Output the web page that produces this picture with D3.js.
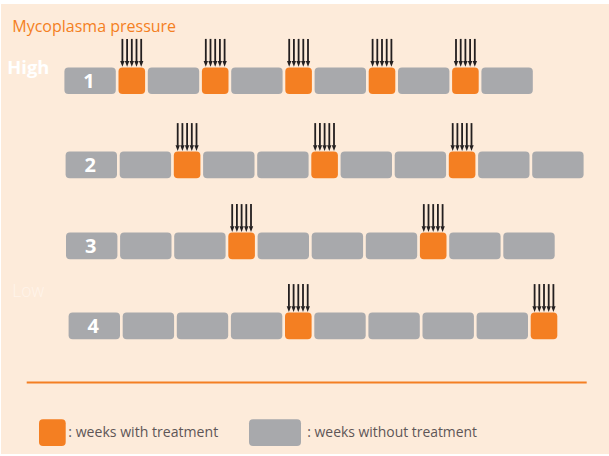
<!DOCTYPE html>
<html>
<head>
<meta charset="utf-8">
<script src="https://cdn.jsdelivr.net/npm/d3@7"></script>
<style>
  html, body { margin: 0; padding: 0; background: #ffffff; }
  svg { display: block; }
</style>
</head>
<body>
<svg id="chart" width="609" height="456"></svg>
<script>
// ---------- DATA ----------
const titleText = "Mycoplasma pressure";
const highLabel = "High";
const lowLabel = "Low";
const rowLabels = ["1", "2", "3", "4"];
// 1 = week with treatment, 0 = week without treatment
const schedule1 = [0, 1, 0, 1, 0, 1, 0, 1, 0, 1, 0];
const schedule2 = [0, 0, 1, 0, 0, 1, 0, 0, 1, 0, 0];
const schedule3 = [0, 0, 0, 1, 0, 0, 0, 1, 0, 0];
const schedule4 = [0, 0, 0, 0, 1, 0, 0, 0, 0, 1];
const arrowsPerTreatment = 5;
const legendLabels = [": weeks with treatment", ": weeks without treatment"];

// ---------- STYLE / LAYOUT ----------
const W = 609, H = 456;
const colors = {
  bg: "#FDEBDA",
  orange: "#F47F22",
  gray: "#A8A9AC",
  arrow: "#231F20",
  text: "#5E5657",
  white: "#FFFFFF",
  low: "#FFF4EA"
};
const FONT = "'Open Sans', 'Noto Sans', sans-serif";
const grayW = 51.4, orangeW = 26.6, gap = 2.7, blockH = 26.6, radius = 4;
const rowTops = [67.4, 151.6, 232.6, 312.6];
const rowStarts = [64.4, 65.6, 66.0, 68.6];
const arrowLen = 28.5, arrowSpacing = 4.7, headW = 4.4, headH = 5.8;

const svg = d3.select("#chart");

// background panel
svg.append("rect").attr("x", 1).attr("y", 4).attr("width", W - 1).attr("height", H - 6)
  .attr("fill", colors.bg);

function fitText(sel, targetWidth) {
  const node = sel.node();
  const fs = parseFloat(sel.attr("font-size"));
  const w = node.getComputedTextLength();
  if (w > 0) sel.attr("font-size", fs * targetWidth / w);
  return sel;
}

// title
fitText(svg.append("text").attr("x", 12.3).attr("y", 31.7)
  .attr("font-family", FONT).attr("font-size", 15.5).attr("fill", colors.orange)
  .text(titleText), 164);

// High / Low
fitText(svg.append("text").attr("x", 7.3).attr("y", 74)
  .attr("font-family", FONT).attr("font-weight", 700).attr("font-size", 18.5)
  .attr("fill", colors.white).text(highLabel), 42);
fitText(svg.append("text").attr("x", 12.3).attr("y", 296.7)
  .attr("font-family", FONT).attr("font-weight", 300).attr("font-size", 19)
  .attr("fill", colors.low).text(lowLabel), 32);

// rows
const schedules = [schedule1, schedule2, schedule3, schedule4];
const rows = schedules.map((weeks, i) => {
  const widthOf = v => v ? orangeW : grayW;
  let x = 0;
  const blocks = weeks.map((v, j) => {
    const b = { treated: v, offset: x, width: widthOf(v), index: j };
    x += widthOf(v) + gap;
    return b;
  });
  const total = x - gap;
  return { label: rowLabels[i], blocks, total, index: i };
});

const yScale = d3.scaleOrdinal().domain(rowLabels).range(rowTops);
const xStart = d3.scaleOrdinal().domain(rowLabels).range(rowStarts);

rows.forEach(row => {
  const g = svg.append("g")
    .attr("transform", `translate(${xStart(row.label)},${yScale(row.label)})`);
  const xs = d3.scaleLinear().domain([0, row.total]).range([0, row.total]);

  g.selectAll("rect.week").data(row.blocks).join("rect")
    .attr("class", "week")
    .attr("x", d => xs(d.offset))
    .attr("y", 0)
    .attr("width", d => xs(d.width) - xs(0))
    .attr("height", blockH)
    .attr("rx", radius).attr("ry", radius)
    .attr("fill", d => d.treated ? colors.orange : colors.gray);

  // label in first block
  const first = row.blocks[0];
  g.append("text")
    .attr("x", xs(first.offset + first.width / 2) - 1)
    .attr("y", blockH / 2 + 6.9)
    .attr("text-anchor", "middle")
    .attr("font-family", FONT).attr("font-weight", 700).attr("font-size", 20)
    .attr("fill", colors.white)
    .text(row.label);

  // arrows
  const treated = row.blocks.filter(d => d.treated);
  const arrowIdx = d3.range(arrowsPerTreatment);
  treated.forEach(b => {
    const cx = xs(b.offset + b.width / 2);
    const ax = k => cx + (k - (arrowsPerTreatment - 1) / 2) * arrowSpacing;
    g.selectAll(null).data(arrowIdx).join("line")
      .attr("x1", ax).attr("x2", ax)
      .attr("y1", -arrowLen)
      .attr("y2", -headH)
      .attr("stroke", colors.arrow)
      .attr("stroke-width", 1.8);
    g.selectAll(null).data(arrowIdx).join("path")
      .attr("d", k => {
        const x = ax(k);
        return `M${x - headW / 2},${-headH - 0.5} L${x + headW / 2},${-headH - 0.5} L${x},-0.7 Z`;
      })
      .attr("fill", colors.arrow);
  });
});

// separator line
svg.append("line").attr("x1", 26.7).attr("x2", 586.7).attr("y1", 382.5).attr("y2", 382.5)
  .attr("stroke", colors.orange).attr("stroke-width", 1.8);

// legend
const legendItems = [
  { label: legendLabels[0], color: colors.orange, x: 39, w: 26.7, tx: 68.3, tw: 150 },
  { label: legendLabels[1], color: colors.gray, x: 249, w: 52, tx: 307.3, tw: 170 }
];
legendItems.forEach(d => {
  svg.append("rect").attr("x", d.x).attr("y", 419.2).attr("width", d.w).attr("height", 26.8)
    .attr("rx", radius).attr("ry", radius).attr("fill", d.color);
  fitText(svg.append("text").attr("x", d.tx).attr("y", 436.7)
    .attr("font-family", FONT).attr("font-size", 15).attr("fill", colors.text)
    .text(d.label), d.tw);
});
</script>
</body>
</html>
